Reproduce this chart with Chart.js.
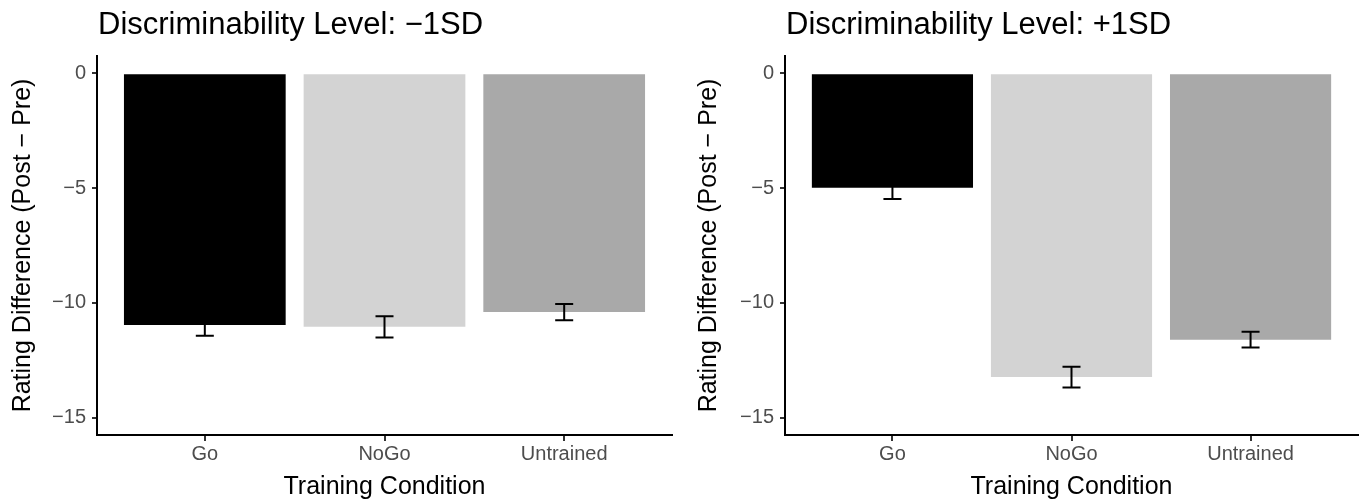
<!DOCTYPE html>
<html>
<head>
<meta charset="utf-8">
<script src="https://cdn.jsdelivr.net/npm/chart.js@4"></script>
<style>
  html, body { margin: 0; padding: 0; background: #fff; }
  .panel { position: absolute; top: 0; height: 502px; }
  #left { left: 0; width: 680px; }
  #right { left: 680px; width: 679px; }
</style>
</head>
<body>
<div class="panel" id="left"><canvas id="minusChart" width="680" height="502"></canvas></div>
<div class="panel" id="right"><canvas id="plusChart" width="679" height="502"></canvas></div>
<script>
// Data
const categories = ['Go', 'NoGo', 'Untrained'];
const minusMeans = [-10.96, -11.04, -10.40];
const minusSE = [0.47, 0.46, 0.35];
const plusMeans = [-4.99, -13.23, -11.60];
const plusSE = [0.49, 0.45, 0.34];
const yTicks = [-15, -10, -5, 0];
const barColors = ['#000000', '#d3d3d3', '#a9a9a9'];

const FONT = '"Liberation Sans", Arial, Helvetica, sans-serif';

// error bars drawn on top of the bars
const errorBars = {
    id: 'errorBars',
    afterDatasetsDraw(chart, args, opts) {
        const ctx = chart.ctx;
        const xs = chart.scales.x, ys = chart.scales.y;
        ctx.save();
        ctx.strokeStyle = '#000';
        ctx.lineWidth = 2;
        opts.means.forEach((m, i) => {
            const x = xs.getPixelForValue(i + 1);
            const top = ys.getPixelForValue(m + opts.se[i]);
            const bot = ys.getPixelForValue(m - opts.se[i]);
            ctx.beginPath();
            ctx.moveTo(x, top); ctx.lineTo(x, bot);
            ctx.moveTo(x - 9, top); ctx.lineTo(x + 9, top);
            ctx.moveTo(x - 9, bot); ctx.lineTo(x + 9, bot);
            ctx.stroke();
        });
        ctx.restore();
    }
};

// panel title, left aligned to the plot area
const panelTitle = {
    id: 'panelTitle',
    afterDraw(chart, args, opts) {
        const ctx = chart.ctx;
        ctx.save();
        ctx.font = '31px ' + FONT;
        ctx.fillStyle = '#000';
        ctx.textBaseline = 'alphabetic';
        ctx.fillText(opts.text, chart.chartArea.left + 1, 34);
        ctx.restore();
    }
};

function minusLabel(v) {
    return v < 0 ? '\u2212' + Math.abs(v) : String(v);
}

function makeChart(id, means, se, title, axisWidth, rightPad, yTitlePad) {
    const ctx = document.getElementById(id).getContext('2d');
    return new Chart(ctx, {
        type: 'bar',
        data: {
            datasets: [{
                data: means.map((m, i) => ({ x: i + 1, y: m })),
                backgroundColor: barColors,
                borderWidth: 0,
                barPercentage: 0.9,
                categoryPercentage: 1.0
            }]
        },
        plugins: [errorBars, panelTitle],
        options: {
            responsive: false,
            animation: false,
            devicePixelRatio: 1,
            layout: { padding: { top: 56, right: rightPad, bottom: 0, left: 0 } },
            plugins: {
                legend: { display: false },
                tooltip: { enabled: false },
                errorBars: { means: means, se: se },
                panelTitle: { text: title }
            },
            scales: {
                x: {
                    type: 'linear',
                    min: 0.4,
                    max: 3.6,
                    offset: false,
                    afterBuildTicks: s => { s.ticks = [1, 2, 3].map(v => ({ value: v })); },
                    afterFit: s => { s.height = 67; },
                    ticks: {
                        callback: v => categories[v - 1],
                        color: '#4d4d4d',
                        font: { family: FONT, size: 20 },
                        padding: 1,
                        maxRotation: 0
                    },
                    grid: {
                        offset: false,
                        drawOnChartArea: false,
                        drawTicks: true,
                        tickLength: 6,
                        color: '#333',
                        lineWidth: 2
                    },
                    border: { display: true, color: '#000', width: 2 },
                    title: {
                        display: true,
                        text: 'Training Condition',
                        color: '#000',
                        font: { family: FONT, size: 25 },
                        padding: { top: 6, bottom: 0 }
                    }
                },
                y: {
                    min: -15.75,
                    max: 0.75,
                    afterBuildTicks: s => { s.ticks = yTicks.map(v => ({ value: v })); },
                    afterFit: s => { s.width = axisWidth; },
                    ticks: {
                        callback: minusLabel,
                        color: '#4d4d4d',
                        font: { family: FONT, size: 20 },
                        padding: 6
                    },
                    grid: {
                        drawOnChartArea: false,
                        drawTicks: true,
                        tickLength: 5,
                        color: '#333',
                        lineWidth: 2
                    },
                    border: { display: true, color: '#000', width: 2 },
                    title: {
                        display: true,
                        text: 'Rating Difference (Post \u2212 Pre)',
                        color: '#000',
                        font: { family: FONT, size: 25 },
                        padding: { top: yTitlePad, bottom: 0 }
                    }
                }
            }
        }
    });
}

makeChart('minusChart', minusMeans, minusSE, 'Discriminability Level: \u22121SD', 97, 8, 8);
makeChart('plusChart', plusMeans, plusSE, 'Discriminability Level: +1SD', 105, 1, 14);
</script>
</body>
</html>
